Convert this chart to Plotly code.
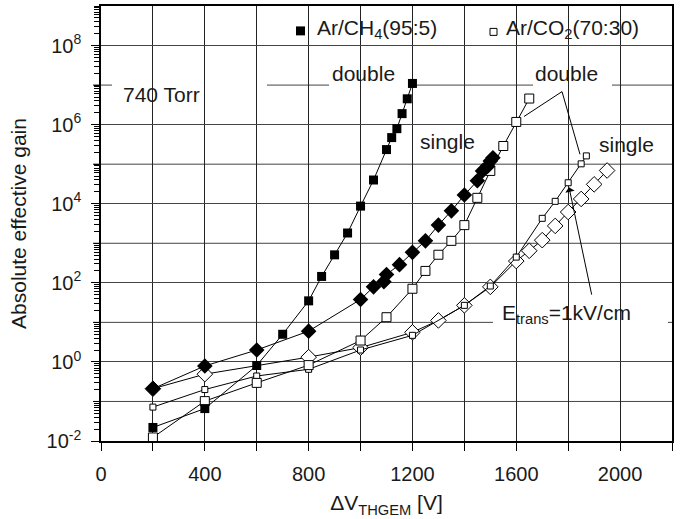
import plotly.graph_objects as go

# ---------------- data ----------------
ch4_double_v = [200, 400, 600, 700, 800, 850, 900, 950, 1000, 1050, 1100, 1120, 1140, 1160, 1180, 1200]
ch4_double_g = [0.022, 0.066, 0.81, 5.0, 35, 145, 510, 1820, 8700, 39800, 2.34e5, 4.7e5, 7.9e5, 1.9e6, 4.5e6, 1.1e7]

ch4_single_v = [200, 400, 600, 800, 1000, 1050, 1090, 1100, 1150, 1200, 1250, 1300, 1350, 1400, 1450, 1470, 1490, 1500, 1510]
ch4_single_g = [0.21, 0.79, 2.0, 6.0, 38, 79, 107, 162, 288, 589, 1150, 2880, 6610, 16600, 38000, 67600, 89100, 1.2e5, 1.45e5]

co2_double_v = [200, 400, 600, 800, 1000, 1100, 1200, 1250, 1300, 1350, 1400, 1450, 1500, 1550, 1600, 1650]
co2_double_g = [0.0123, 0.102, 0.295, 0.83, 3.47, 13.5, 70.8, 200, 513, 1150, 2880, 14100, 67600, 2.88e5, 1.17e6, 4.57e6]

co2_lowE_v = [200, 400, 600, 800, 1000, 1200, 1400, 1500, 1600, 1700, 1750, 1800, 1850, 1870]
co2_lowE_g = [0.072, 0.20, 0.44, 0.65, 2.0, 4.7, 26.9, 83, 447, 4270, 11500, 33900, 1.02e5, 1.62e5]

co2_single_v = [200, 400, 800, 1000, 1200, 1300, 1400, 1500, 1600, 1650, 1700, 1750, 1800, 1850, 1900, 1950]
co2_single_g = [0.21, 0.49, 1.32, 2.3, 5.6, 11.2, 26.9, 79, 355, 646, 1200, 2750, 6170, 13200, 30900, 69200]

y_label_exps = [-2, 0, 2, 4, 6, 8]
y_label_vals = [10.0 ** e for e in y_label_exps]
y_label_text = [f"10<sup>{e}</sup>" for e in y_label_exps]
y_odd_exps = [-1, 1, 3, 5, 7]

FONT = "Liberation Sans, Arial, sans-serif"

# ---------------- layout geometry (pixels) ----------------
W, H = 680, 519
L, R, T, B = 101, 672, 4, 441
Y_MIN, Y_MAX = -2, 9


def px(x):
    return (x - L) / (R - L)


def py(y):
    return (B - y) / (B - T)


fig = go.Figure()

line = dict(color="black", width=1)
fig.add_trace(go.Scatter(x=co2_single_v, y=co2_single_g, mode="lines+markers", line=line,
                         marker=dict(symbol="diamond", size=12, color="white", line=dict(color="black", width=1)),
                         name="Ar/CO2 single", showlegend=False))
fig.add_trace(go.Scatter(x=co2_lowE_v, y=co2_lowE_g, mode="lines+markers", line=line,
                         marker=dict(symbol="square", size=6, color="white", line=dict(color="black", width=1)),
                         name="Ar/CO2 double Etrans=1kV/cm", showlegend=False))
fig.add_trace(go.Scatter(x=co2_double_v, y=co2_double_g, mode="lines+markers", line=line,
                         marker=dict(symbol="square", size=9, color="white", line=dict(color="black", width=1)),
                         name="Ar/CO2 double", showlegend=False))
fig.add_trace(go.Scatter(x=ch4_single_v, y=ch4_single_g, mode="lines+markers", line=line,
                         marker=dict(symbol="diamond", size=12, color="black"),
                         name="Ar/CH4 single", showlegend=False))
fig.add_trace(go.Scatter(x=ch4_double_v, y=ch4_double_g, mode="lines+markers", line=line,
                         marker=dict(symbol="square", size=9, color="black"),
                         name="Ar/CH4 double", showlegend=False))

shapes = []
# gridlines and ticks at odd decades (unlabelled)
for e in y_odd_exps:
    yp = (e - Y_MIN) / (Y_MAX - Y_MIN)
    shapes.append(dict(type="line", xref="paper", yref="paper", x0=0, x1=1, y0=yp, y1=yp,
                       line=dict(color="#444444", width=1), layer="below"))
    shapes.append(dict(type="line", xref="paper", yref="paper", x0=-8 / (R - L), x1=0, y0=yp, y1=yp,
                       line=dict(color="black", width=1), layer="above"))
# white boxes hiding gridlines behind labels
boxes = [
    (112, 65, 267, 110),   # 740 Torr
    (329, 60, 413, 85),    # double (left)
    (533, 60, 612, 85),    # double (right)
    (413, 120, 490, 155),  # single (left)
    (595, 127, 665, 156),  # single (right)
    (493, 295, 668, 327),  # E_trans
    (313, 5, 442, 41),     # legend CH4
    (502, 5, 645, 41),     # legend CO2
]
for x0, y0, x1, y1 in boxes:
    shapes.append(dict(type="rect", xref="paper", yref="paper", x0=px(x0), x1=px(x1), y0=py(y1), y1=py(y0),
                       fillcolor="white", line=dict(width=0), layer="between"))
# legend symbols
shapes.append(dict(type="rect", xref="paper", yref="paper", x0=px(296), x1=px(305), y0=py(33.5), y1=py(24.5),
                   fillcolor="black", line=dict(width=0), layer="above"))
shapes.append(dict(type="rect", xref="paper", yref="paper", x0=px(490), x1=px(497), y0=py(33.5), y1=py(26.5),
                   fillcolor="white", line=dict(color="black", width=1), layer="above"))
# pointer lines from "double" (right)
for (x0, y0, x1, y1) in [(562, 90, 524, 115), (562, 90, 580, 153)]:
    shapes.append(dict(type="line", xref="paper", yref="paper", x0=px(x0), y0=py(y0), x1=px(x1), y1=py(y1),
                       line=dict(color="black", width=1), layer="above"))

annotations = []


def txt(text, x, y, xanchor="center", size=21):
    annotations.append(dict(text=text, xref="paper", yref="paper", x=px(x), y=py(y), xanchor=xanchor,
                            yanchor="middle", showarrow=False, font=dict(family=FONT, size=size, color="#1a1a1a")))


txt("740 Torr", 121, 93, "left")
txt("double", 363, 72)
txt("double", 566, 72)
txt("single", 447, 140)
txt("single", 626, 143)
txt("E<sub>trans</sub>=1kV/cm", 500, 313, "left")
txt("Ar/CH<sub>4</sub>(95:5)", 315, 27, "left")
txt("Ar/CO<sub>2</sub>(70:30)", 504, 27, "left")

# arrow to the E_trans curve
annotations.append(dict(text="", xref="paper", yref="paper", x=px(569), y=py(186), ax=23, ay=109,
                        showarrow=True, arrowhead=1, arrowsize=1.6, arrowwidth=1, arrowcolor="black"))

fig.update_layout(
    width=W, height=H,
    margin=dict(l=L, r=W - R, t=T, b=H - B),
    paper_bgcolor="white", plot_bgcolor="white",
    font=dict(family=FONT, size=20, color="#1a1a1a"),
    shapes=shapes, annotations=annotations,
    showlegend=False,
)
fig.update_xaxes(range=[0, 2200], tick0=0, dtick=400,
                 showgrid=True, gridcolor="#222222", gridwidth=1,
                 minor=dict(dtick=200, ticks="outside", ticklen=8, tickcolor="black",
                            showgrid=True, gridcolor="#222222", gridwidth=1),
                 showline=True, linecolor="black", linewidth=1.5, mirror=True,
                 ticks="outside", ticklen=8, tickcolor="black", zeroline=False, ticklabelstandoff=6,
                 title=dict(text="ΔV<sub>THGEM</sub> [V]", font=dict(size=21), standoff=12))
fig.update_yaxes(type="log", range=[Y_MIN, Y_MAX], tickmode="array", tickvals=y_label_vals, ticktext=y_label_text,
                 showgrid=True, gridcolor="#444444", gridwidth=1,
                 showline=True, linecolor="black", linewidth=1.5, mirror=True,
                 ticks="outside", ticklen=8, tickcolor="black", zeroline=False, ticklabelstandoff=6,
                 minor=dict(ticks="outside", ticklen=5, tickcolor="black", dtick="D1", showgrid=False),
                 title=dict(text="Absolute effective gain", font=dict(size=21), standoff=14))

fig.write_html("out.html")
